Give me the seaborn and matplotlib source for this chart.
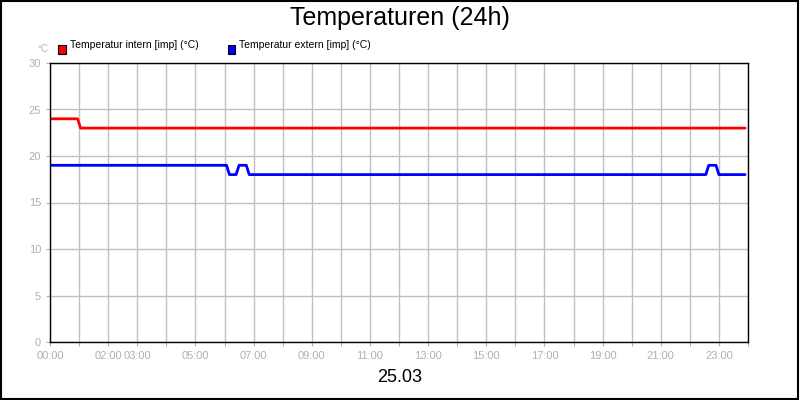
import matplotlib
matplotlib.use('Agg')
import matplotlib.pyplot as plt
import seaborn as sns
from matplotlib.patches import Rectangle

sns.set_style('white')
plt.rcParams['font.family'] = ['Liberation Sans', 'DejaVu Sans']

# hours since 00:00
intern_h = [0.0, 0.95, 1.05, 23.9]
intern_v = [24, 24, 23, 23]
extern_h = [0.0, 6.07, 6.17, 6.4, 6.5, 6.75, 6.85, 22.55, 22.65, 22.9, 23.0, 23.9]
extern_v = [19, 19, 18, 18, 19, 19, 18, 18, 19, 19, 18, 18]
tick_hours = [0, 2, 3, 5, 7, 9, 11, 13, 15, 17, 19, 21, 23]

fig = plt.figure(figsize=(8, 4), dpi=100)
ax = fig.add_axes([0.0625, 0.145, 0.8725, 0.6975])

sns.lineplot(x=intern_h, y=intern_v, color='#ff0000', lw=2, ax=ax)
sns.lineplot(x=extern_h, y=extern_v, color='#0000ff', lw=2, ax=ax)

ax.set_xlim(0, 24)
ax.set_ylim(0, 30)
ax.set_xticks(range(0, 25))
ax.set_xticklabels(['%02d:00' % h if h in tick_hours else '' for h in range(25)])
ax.set_yticks(range(0, 31, 5))
ax.grid(True, color='#c0c0c0', lw=1)
ax.tick_params(colors='#b0b0b0', labelsize=8, length=3, direction='out', bottom=True, left=True)
for s in ax.spines.values():
    s.set_color('black')
    s.set_linewidth(1)

fig.text(0.5, 0.955, 'Temperaturen (24h)', ha='center', va='center', fontsize=18, color='black')
fig.text(0.5, 0.055, '25.03', ha='center', va='center', fontsize=13, color='black')
fig.text(0.047, 0.878, '°C', ha='left', va='center', fontsize=7, color='#b0b0b0')

fig.patches.append(Rectangle((0.073, 0.878 - 0.012), 0.009, 0.022, transform=fig.transFigure,
                             facecolor='#ff0000', edgecolor='black', lw=0.8))
fig.text(0.087, 0.888, 'Temperatur intern [imp] (°C)', va='center', fontsize=7.5, color='black')
fig.patches.append(Rectangle((0.2845, 0.878 - 0.012), 0.009, 0.022, transform=fig.transFigure,
                             facecolor='#0000ff', edgecolor='black', lw=0.8))
fig.text(0.2985, 0.888, 'Temperatur extern [imp] (°C)', va='center', fontsize=7.5, color='black')

fig.patches.append(Rectangle((0.001, 0.002), 0.997, 0.996, transform=fig.transFigure,
                             fill=False, edgecolor='black', lw=1.5))

fig.savefig('out.png', dpi=100)
